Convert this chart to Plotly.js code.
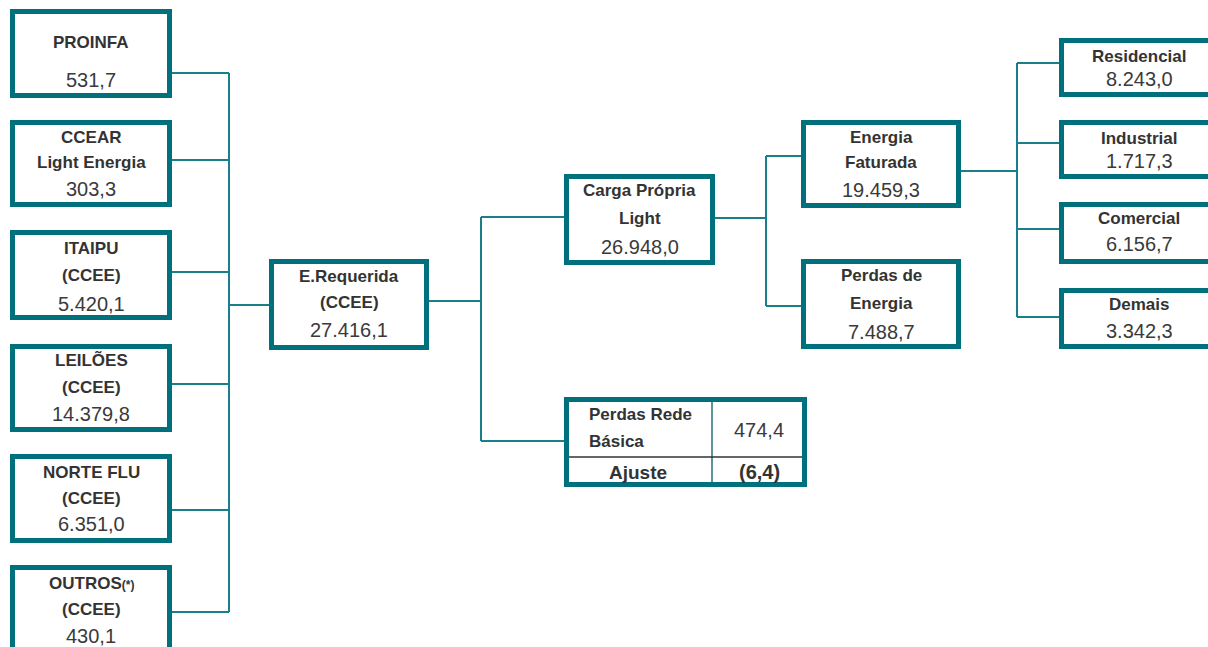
<!DOCTYPE html>
<html>
<head>
<meta charset="utf-8">
<script src="https://cdn.plot.ly/plotly-3.0.1.min.js"></script>
<style>html,body{margin:0;padding:0;background:#fff;}#chart{width:1208px;height:647px;}</style>
</head>
<body>
<div id="chart"></div>
<script>
// ---- Data (labels and values) ----
const sourceLabels = [["PROINFA"], ["CCEAR", "Light Energia"], ["ITAIPU", "(CCEE)"], ["LEILÕES", "(CCEE)"], ["NORTE FLU", "(CCEE)"], ["OUTROS<span style='font-size:12px'>(*)</span>", "(CCEE)"]];
const sourceValues = ["531,7", "303,3", "5.420,1", "14.379,8", "6.351,0", "430,1"];
const totalLabel = ["E.Requerida", "(CCEE)"];
const totalValue = "27.416,1";
const loadLabel = ["Carga Própria", "Light"];
const loadValue = "26.948,0";
const splitLabels = [["Energia", "Faturada"], ["Perdas de", "Energia"]];
const splitValues = ["19.459,3", "7.488,7"];
const classLabels = [["Residencial"], ["Industrial"], ["Comercial"], ["Demais"]];
const classValues = ["8.243,0", "1.717,3", "6.156,7", "3.342,3"];
const basicLossLabel = ["Perdas Rede", "Básica"];
const basicLossValue = "474,4";
const adjustLabel = "Ajuste";
const adjustValue = "(6,4)";

// ---- Layout geometry (pixel space: x 0..1208, y 0..647 downward) ----
const sourceBoxes = [[10,9,172,98],[10,120,172,207],[10,230,172,320],[10,344,172,432],[10,454,172,543],[10,565,172,660]];
const sourceTextY = [[42],[137,162],[248,275],[360,387],[472,498],[583,609]];
const sourceValY = [80,189,304,414,524,636];
const sourceLinkY = [73,160,272,384,510,612];
const totalBox = [269,259,429,350], totalTextY=[276,302], totalValY=330;
const loadBox = [564,174,715,265], loadTextY=[190,218], loadValY=247;
const splitBoxes = [[801,120,961,208],[801,259,961,349]];
const splitTextY = [[137,162],[275,303]];
const splitValY = [190,332];
const classBoxes = [[1059,38,1218,97],[1059,120,1218,179],[1059,202,1218,264],[1059,288,1218,349]];
const classTextY = [[56],[138],[218],[304]];
const classValY = [79,161,244,331];
const classLinkY = [63,143,229,317];
const tableBox = [564,397,807,487];

const TEAL = '#00707d';
const LINE = '#1b7f8b';
const TXT = '#333333';
const VTXT = '#3a3a3a';
const BW = 5;
const FONT = 'Liberation Sans, Arial, sans-serif';

const shapes = [];
const annotations = [];

function box(b){
  const h = BW/2;
  shapes.push({type:'rect', xref:'x', yref:'y', x0:b[0]+h, y0:b[1]+h, x1:b[2]-h, y1:b[3]-h,
    line:{color:TEAL, width:BW}, fillcolor:'rgba(0,0,0,0)', layer:'above'});
}
function seg(x0,y0,x1,y1,c,w){
  shapes.push({type:'line', xref:'x', yref:'y', x0:x0, y0:y0, x1:x1, y1:y1,
    line:{color:c||LINE, width:w||2}, layer:'below'});
}
function txt(x,y,t,bold,size,color,anchor){
  annotations.push({x:x, y:y, xref:'x', yref:'y', text:bold?('<b>'+t+'</b>'):t, showarrow:false,
    xanchor:anchor||'center', yanchor:'middle',
    font:{family:FONT, size:size, color:color||TXT}});
}
function label(x,y,t,anchor){ txt(x,y,t,true,17,TXT,anchor); }
function value(x,y,t){ txt(x,y,t,false,20,VTXT); }
function node(b, labels, ly, val, vy, cxOverride){
  box(b);
  const cx = cxOverride || (b[0]+b[2])/2;
  labels.forEach((l,i)=>label(cx, ly[i], l));
  value(cx, vy, val);
}

// sources
sourceLabels.forEach((l,i)=>node(sourceBoxes[i], l, sourceTextY[i], sourceValues[i], sourceValY[i]));
const busX = 229;
sourceLinkY.forEach(y=>seg(172,y,busX,y));
seg(busX, sourceLinkY[0], busX, sourceLinkY[sourceLinkY.length-1]);
seg(busX, 305, totalBox[0], 305);

// total
node(totalBox, totalLabel, totalTextY, totalValue, totalValY);
const bus2 = 481;
seg(totalBox[2], 301, bus2, 301);
seg(bus2, 217, bus2, 441);
seg(bus2, 217, loadBox[0], 217);
seg(bus2, 441, tableBox[0], 441);

// load
node(loadBox, loadLabel, loadTextY, loadValue, loadValY);
const bus3 = 766;
seg(loadBox[2], 218, bus3, 218);
seg(bus3, 156, bus3, 306);
seg(bus3, 156, splitBoxes[0][0], 156);
seg(bus3, 306, splitBoxes[1][0], 306);

// split
splitLabels.forEach((l,i)=>node(splitBoxes[i], l, splitTextY[i], splitValues[i], splitValY[i]));
const bus4 = 1017;
seg(splitBoxes[0][2], 171, bus4, 171);
seg(bus4, classLinkY[0], bus4, classLinkY[classLinkY.length-1]);
classLinkY.forEach(y=>seg(bus4,y,classBoxes[0][0],y));

// classes (text centred on visible part of boxes)
classLabels.forEach((l,i)=>node(classBoxes[i], l, classTextY[i], classValues[i], classValY[i], 1139));

// table
box(tableBox);
seg(712, 402, 712, 482, '#2a6f78', 1.5);
seg(569, 457, 802, 457, '#333333', 1.5);
label(587, 414, basicLossLabel[0], 'left');
label(587, 441, basicLossLabel[1], 'left');
value(759, 430, basicLossValue);
txt(638, 472, adjustLabel, true, 19, TXT);
txt(759, 472, adjustValue, true, 20, TXT);

Plotly.newPlot('chart', [{x:[], y:[], type:'scatter', mode:'markers', hoverinfo:'skip', showlegend:false}], {
  width:1208, height:647,
  margin:{l:0,r:0,t:0,b:0},
  paper_bgcolor:'#ffffff', plot_bgcolor:'#ffffff',
  xaxis:{range:[0,1208], visible:false, fixedrange:true},
  yaxis:{range:[647,0], visible:false, fixedrange:true},
  shapes:shapes, annotations:annotations, showlegend:false
}, {staticPlot:true, displayModeBar:false});
</script>
</body>
</html>
